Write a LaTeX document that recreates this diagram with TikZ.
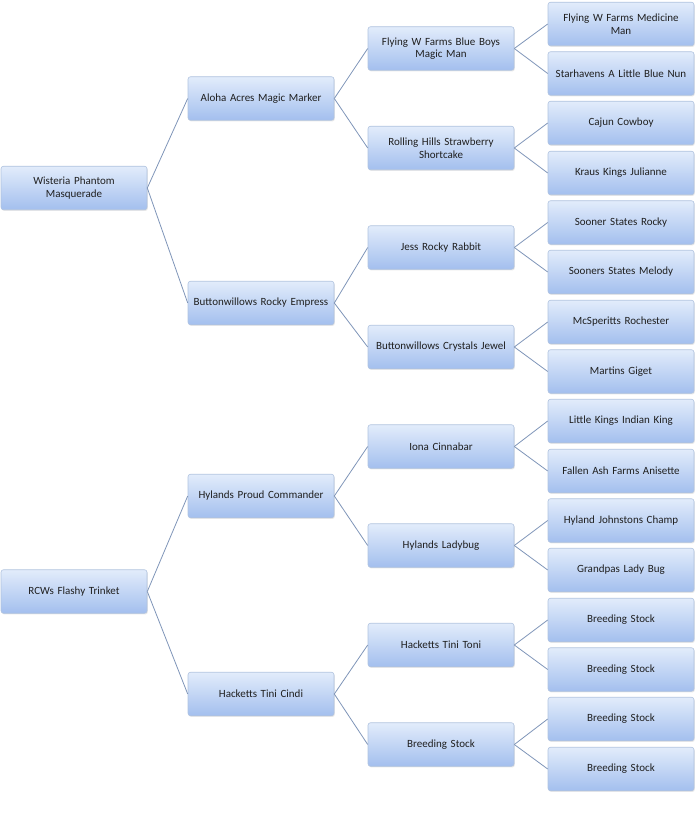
\documentclass[tikz,border=0pt]{standalone}
\usepackage{fontspec}
\setmainfont{Carlito}
\usetikzlibrary{shadows}
\definecolor{boxtop}{HTML}{E2ECFB}
\definecolor{boxbot}{HTML}{A3BFEE}
\definecolor{boxline}{HTML}{B0C3DF}
\definecolor{linkc}{HTML}{7F95B8}
\tikzset{
  pbox/.style={rectangle, rounded corners=2.5pt, draw=boxline, line width=0.6pt,
    top color=boxtop, bottom color=boxbot, minimum width=146pt, minimum height=43.5pt,
    text width=142pt, align=center, inner sep=1pt, font=\fontsize{11}{12.5}\selectfont,
    text=black!88, drop shadow={opacity=0.18, shadow xshift=0.8pt, shadow yshift=-1.2pt}},
  link/.style={draw=linkc, line width=0.8pt}
}
\begin{document}
\begin{tikzpicture}[x=1pt,y=-1pt]
\useasboundingbox (0,0) rectangle (698,834);
% column 1
\node[pbox] (a) at (74,188) {Wisteria Phantom\\Masquerade};
\node[pbox] (b) at (74,591.5) {RCWs Flashy Trinket};
% column 2
\node[pbox] (a1) at (261,98.5) {Aloha Acres Magic Marker};
\node[pbox] (a2) at (261,303) {Buttonwillows Rocky Empress};
\node[pbox] (b1) at (261,496) {Hylands Proud Commander};
\node[pbox] (b2) at (261,694) {Hacketts Tini Cindi};
% column 3
\node[pbox] (c1) at (441,48.5) {Flying W Farms Blue Boys\\Magic Man};
\node[pbox] (c2) at (441,148) {Rolling Hills Strawberry\\Shortcake};
\node[pbox] (c3) at (441,247.5) {Jess Rocky Rabbit};
\node[pbox] (c4) at (441,347) {Buttonwillows Crystals Jewel};
\node[pbox] (c5) at (441,446.5) {Iona Cinnabar};
\node[pbox] (c6) at (441,545.5) {Hylands Ladybug};
\node[pbox] (c7) at (441,645) {Hacketts Tini Toni};
\node[pbox] (c8) at (441,744.5) {Breeding Stock};
% column 4
\node[pbox] (d1) at (621,24) {Flying W Farms Medicine\\Man};
\node[pbox] (d2) at (621,73.5) {Starhavens A Little Blue Nun};
\node[pbox] (d3) at (621,123) {Cajun Cowboy};
\node[pbox] (d4) at (621,173) {Kraus Kings Julianne};
\node[pbox] (d5) at (621,222.5) {Sooner States Rocky};
\node[pbox] (d6) at (621,272) {Sooners States Melody};
\node[pbox] (d7) at (621,322) {McSperitts Rochester};
\node[pbox] (d8) at (621,371.5) {Martins Giget};
\node[pbox] (d9) at (621,421) {Little Kings Indian King};
\node[pbox] (d10) at (621,471) {Fallen Ash Farms Anisette};
\node[pbox] (d11) at (621,520.5) {Hyland Johnstons Champ};
\node[pbox] (d12) at (621,570) {Grandpas Lady Bug};
\node[pbox] (d13) at (621,620) {Breeding Stock};
\node[pbox] (d14) at (621,669.5) {Breeding Stock};
\node[pbox] (d15) at (621,719) {Breeding Stock};
\node[pbox] (d16) at (621,769) {Breeding Stock};
% connectors
\foreach \p/\c in {a/a1,a/a2,b/b1,b/b2,a1/c1,a1/c2,a2/c3,a2/c4,b1/c5,b1/c6,b2/c7,b2/c8,
  c1/d1,c1/d2,c2/d3,c2/d4,c3/d5,c3/d6,c4/d7,c4/d8,c5/d9,c5/d10,c6/d11,c6/d12,c7/d13,c7/d14,c8/d15,c8/d16}
  \draw[link] (\p.east) -- (\c.west);
\end{tikzpicture}
\end{document}
